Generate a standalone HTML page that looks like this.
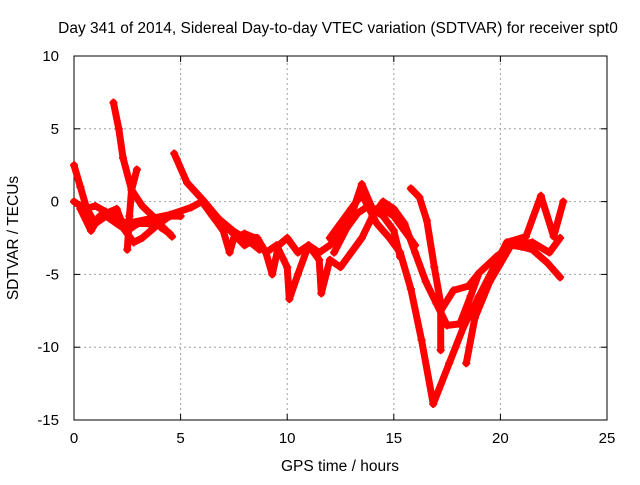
<!DOCTYPE html>
<html><head><meta charset="utf-8"><style>
body{margin:0;background:#fff}
svg text{font-family:"Liberation Sans",sans-serif;font-size:15px;fill:#000}
</style></head><body>
<svg id="chart" width="640" height="480">
<rect width="640" height="480" fill="#fff"/>
<g id="grid"></g><g id="axes"></g><g id="series"></g>
<text x="338" y="33" text-anchor="middle" style="font-size:15.5px">Day 341 of 2014, Sidereal Day-to-day VTEC variation (SDTVAR) for receiver spt0</text>
<text x="340" y="471" text-anchor="middle" style="font-size:15.5px">GPS time / hours</text>
<text x="18" y="238" text-anchor="middle" transform="rotate(-90 18 238)" style="font-size:15.5px">SDTVAR / TECUs</text>
</svg>
<script>
const xTicks=[0,5,10,15,20,25];
const yTicks=[10,5,0,-5,-10,-15];
const trackA=[[0,2.5],[0.3,1],[0.6,-0.5],[1,-1.5],[1.5,-1],[2,-1.5],[2.5,-2],[3,-1.5],[3.5,-1.5],[4,-1.5],[4.5,-1],[5,-1]];
const trackB=[[1.85,6.8],[2.1,5],[2.3,3],[2.7,0.8],[3.2,-0.3],[3.7,-1],[4.1,-1.8],[4.5,-2.2]];
const trackB2=[[2.5,-3.3],[2.6,-1],[2.7,0.8],[2.95,2.2]];
const trackC=[[4.7,3.3],[5.3,1.3],[6.05,0.1],[6.8,-1.2],[7.45,-2],[8.1,-2.6],[8.7,-3.3]];
const trackD=[[0,0],[0.5,-0.5],[1,-0.3],[1.5,-0.7],[2,-1.2],[2.5,-1.5],[3.5,-1.2],[4.5,-0.9],[5.5,-0.4],[6,0]];
const trackE=[[0.3,-0.5],[0.8,-2],[1.2,-1],[2,-0.5],[2.4,-2],[2.8,-2.8],[3.2,-2.5],[4,-1.5],[4.6,-2.4]];
const trackF=[[6,0],[6.5,-1],[7,-2],[7.3,-3.5],[7.5,-2.5],[8,-2.2],[8.5,-2.5],[9,-3.5],[9.3,-5],[9.6,-3],[10,-2.5],[10.5,-3.5],[11,-3],[11.5,-3.5],[12,-3],[12.5,-2],[13,-1],[13.5,1.2],[14,-0.5],[14.5,-0.5],[15,-1],[15.5,-2],[16,-3]];
const trackG=[[7,-1.5],[8,-3],[8.6,-2.5],[9,-3.5],[9.5,-3],[10,-4.5],[10.1,-6.7],[10.5,-5],[11,-3],[11.5,-4],[11.6,-6.3],[12,-4],[12.5,-4.5],[13,-3.5],[13.5,-2.5],[14,-1],[14.5,0],[15,-0.5],[15.5,-1.5],[16,-3.5],[16.5,-5.5],[17,-7],[17.5,-8.5],[18.1,-8.4],[18.6,-6.5],[19,-4.9]];
const trackH=[[12,-2.5],[12.5,-1.5],[13,-0.5],[13.5,0.5],[14.2,-1.5],[14.8,-2.5],[15.3,-3.5],[15.8,-6],[16.3,-9.5],[16.85,-13.9],[17.6,-11.1],[18.3,-8.5],[19,-6.5],[19.7,-4.5],[20.3,-2.8],[21.2,-2.4],[21.9,0.4],[22.5,-2.4],[22.95,0]];
const trackI=[[15.8,0.9],[16.2,0.3],[16.55,-1.3],[16.9,-4.5],[17.2,-7],[17.2,-10.2]];
const trackJ=[[17.2,-7.5],[17.8,-6.1],[18.5,-5.8],[19,-4.9],[19.8,-3.8],[20.5,-3],[21,-3.1],[21.5,-3.3],[22.2,-4.2],[22.8,-5.2]];
const trackK=[[18.4,-11.1],[18.8,-8],[19.5,-5.5],[20.5,-3],[21.5,-2.8],[22.3,-3.5],[22.8,-2.5]];
const trackL=[[12.2,-3.5],[12.8,-1.8],[13.3,-0.8],[13.8,-0.3],[14.5,-1],[15,-2],[15.3,-3.8]];
const tracks=[trackA,trackB,trackB2,trackC,trackD,trackE,trackF,trackG,trackH,trackI,trackJ,trackK,trackL];
const X0=74,X1=607,Y0=420,Y1=56;
const xs=t=>X0+(t-0)/25*(X1-X0);
const ys=v=>Y0-(v+15)/25*(Y0-Y1);
const NS='http://www.w3.org/2000/svg';
function mk(tag,attrs,parent){const e=document.createElementNS(NS,tag);for(const k in attrs)e.setAttribute(k,attrs[k]);parent.appendChild(e);return e;}
const grid=document.getElementById('grid'),axes=document.getElementById('axes'),ser=document.getElementById('series');
xTicks.forEach(t=>{const x=xs(t);
 if(t>0&&t<25){const g=mk('line',{x1:x,x2:x,y1:Y0,y2:Y1,stroke:'#a0a0a0','stroke-dasharray':'2,3'},grid);
 
 }
 mk('line',{x1:x,x2:x,y1:Y0,y2:Y0-6,stroke:'#000'},axes);mk('line',{x1:x,x2:x,y1:Y1,y2:Y1+6,stroke:'#000'},axes);
 const l=mk('text',{x:x,y:Y0+23,'text-anchor':'middle'},axes);l.textContent=t;
 
 });
yTicks.forEach(v=>{const y=ys(v);
 if(v>-15&&v<10){const g=mk('line',{x1:X0,x2:X1,y1:y,y2:y,stroke:'#a0a0a0','stroke-dasharray':'2,3'},grid);
 
 }
 mk('line',{x1:X0,x2:X0+6,y1:y,y2:y,stroke:'#000'},axes);mk('line',{x1:X1,x2:X1-6,y1:y,y2:y,stroke:'#000'},axes);
 const l=mk('text',{x:X0-15,y:y+5,'text-anchor':'end'},axes);l.textContent=v;
 
 });
const frame=mk('rect',{x:X0,y:Y1,width:X1-X0,height:Y0-Y1,fill:'none',stroke:'#000'},axes);


tracks.forEach((tr,i)=>{
 const p=mk('polyline',{points:tr.map(d=>xs(d[0])+','+ys(d[1])).join(' '),fill:'none',stroke:'#ff0000','stroke-width':7,'stroke-linejoin':'round','stroke-linecap':'round'},ser);
 
 
 tr.forEach(d=>{const x=xs(d[0]),y=ys(d[1]);
  const m=mk('path',{d:`M${x-4},${y}H${x+4}M${x},${y-4}V${y+4}`,stroke:'#ff0000','stroke-width':2},ser);
  
  });
});
</script>
</body></html>
